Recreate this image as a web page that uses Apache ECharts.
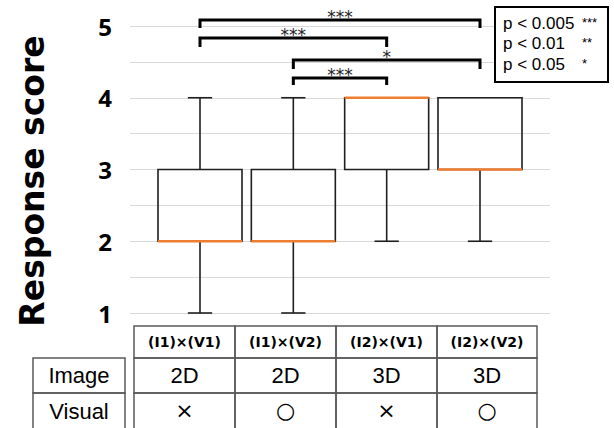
<!DOCTYPE html>
<html><head><meta charset="utf-8">
<script src="https://cdn.jsdelivr.net/npm/echarts@6/dist/echarts.min.js"></script>
<style>html,body{margin:0;padding:0;background:#fff}#c{width:614px;height:428px}</style>
</head><body><div id="c"></div>
<script>
// ---- data ----
const categories = ['(I1)×(V1)', '(I1)×(V2)', '(I2)×(V1)', '(I2)×(V2)'];
const imageRow = ['2D', '2D', '3D', '3D'];
const visualRow = ['×', '○', '×', '○'];
const rowTitles = ['Image', 'Visual'];
const mins = [1, 1, 2, 2];
const q1s = [2, 2, 3, 3];
const medians = [2, 2, 4, 3];
const q3s = [3, 3, 4, 4];
const maxs = [4, 4, 4, 4];
const yTicks = [1, 2, 3, 4, 5];
const bracketFrom = [1, 1, 2, 2];
const bracketTo = [4, 3, 4, 3];
const bracketTop = [5.084, 4.833, 4.526, 4.275];
const bracketFoot = [4.972, 4.707, 4.40, 4.178];
const bracketLabels = ['***', '***', '*', '***'];
const legendLabels = ['p < 0.005', 'p < 0.01', 'p < 0.05'];
const legendStars = ['***', '**', '*'];

// ---- build ----
const boxData = categories.map((c, i) => [i + 1, mins[i], q1s[i], medians[i], q3s[i], maxs[i]]);
const bracketData = bracketFrom.map((f, i) => [f, bracketTo[i], bracketTop[i], bracketFoot[i], i]);

function renderBox(params, api) {
  const x = api.value(0);
  const lo = api.coord([x, api.value(1)]);
  const a = api.coord([x, api.value(2)]);
  const m = api.coord([x, api.value(3)]);
  const b = api.coord([x, api.value(4)]);
  const hi = api.coord([x, api.value(5)]);
  const w = api.size([0.9, 0])[0];
  const cap = api.size([0.26, 0])[0];
  const cx = lo[0];
  const st = { stroke: '#1f1f1f', lineWidth: 1.6, fill: null };
  const ch = [];
  if (hi[1] < b[1] - 0.5) {
    ch.push({ type: 'line', shape: { x1: cx, y1: b[1], x2: cx, y2: hi[1] }, style: st });
    ch.push({ type: 'line', shape: { x1: cx - cap / 2, y1: hi[1], x2: cx + cap / 2, y2: hi[1] }, style: st });
  }
  if (lo[1] > a[1] + 0.5) {
    ch.push({ type: 'line', shape: { x1: cx, y1: a[1], x2: cx, y2: lo[1] }, style: st });
    ch.push({ type: 'line', shape: { x1: cx - cap / 2, y1: lo[1], x2: cx + cap / 2, y2: lo[1] }, style: st });
  }
  ch.push({ type: 'rect', shape: { x: cx - w / 2, y: b[1], width: w, height: a[1] - b[1] }, style: { stroke: '#1f1f1f', lineWidth: 1.6, fill: 'none' } });
  ch.push({ type: 'line', shape: { x1: cx - w / 2, y1: m[1], x2: cx + w / 2, y2: m[1] }, style: { stroke: '#ED7D31', lineWidth: 2.5 } });
  return { type: 'group', children: ch };
}

function renderBracket(params, api) {
  const f = api.value(0), t = api.value(1), top = api.value(2), foot = api.value(3);
  const p1 = api.coord([f, foot]), p2 = api.coord([f, top]), p3 = api.coord([t, top]), p4 = api.coord([t, foot]);
  const idx = api.value(4);
  return {
    type: 'group', children: [
      { type: 'polyline', shape: { points: [p1, p2, p3, p4] }, style: { stroke: '#000', lineWidth: 3, fill: null } },
      { type: 'text', x: (p2[0] + p3[0]) / 2, y: p2[1] - 3, style: { text: bracketLabels[idx], fill: '#222', font: '17px "DejaVu Sans"', align: 'center', verticalAlign: 'middle' } }
    ]
  };
}

const colEdges = [134, 235, 336, 437, 537];
const rowEdges = [326, 358, 393, 430];
const leftEdges = [33, 125];
const gStroke = { stroke: '#595959', lineWidth: 1.5, fill: 'none' };
const graphics = [];
categories.forEach((c, i) => {
  const x0 = colEdges[i], x1 = colEdges[i + 1];
  [0, 1, 2].forEach(r => {
    graphics.push({ type: 'rect', shape: { x: x0, y: rowEdges[r], width: x1 - x0, height: rowEdges[r + 1] - rowEdges[r] }, style: gStroke });
  });
  const cx = (x0 + x1) / 2;
  graphics.push({ type: 'text', x: cx, y: (rowEdges[0] + rowEdges[1]) / 2, style: { text: c, font: 'bold 14px "DejaVu Sans"', fill: '#000', align: 'center', verticalAlign: 'middle' } });
  graphics.push({ type: 'text', x: cx, y: (rowEdges[1] + rowEdges[2]) / 2, style: { text: imageRow[i], font: '22px "Liberation Sans", Arial', fill: '#000', align: 'center', verticalAlign: 'middle' } });
  graphics.push({ type: 'text', x: cx, y: (rowEdges[2] + rowEdges[3]) / 2 - 1, style: { text: visualRow[i], font: '22px "DejaVu Sans"', fill: '#000', align: 'center', verticalAlign: 'middle' } });
});
rowTitles.forEach((t, r) => {
  graphics.push({ type: 'rect', shape: { x: leftEdges[0], y: rowEdges[r + 1], width: leftEdges[1] - leftEdges[0], height: rowEdges[r + 2] - rowEdges[r + 1] }, style: gStroke });
  graphics.push({ type: 'text', x: (leftEdges[0] + leftEdges[1]) / 2, y: (rowEdges[r + 1] + rowEdges[r + 2]) / 2, style: { text: t, font: '22px "Liberation Sans", Arial', fill: '#000', align: 'center', verticalAlign: 'middle' } });
});
// legend box
graphics.push({ type: 'rect', z: 100, shape: { x: 495, y: 7, width: 113, height: 75 }, style: { fill: '#fff', stroke: '#000', lineWidth: 2 } });
legendLabels.forEach((t, i) => {
  const y = 23 + i * 20.5;
  graphics.push({ type: 'text', z: 101, x: 503, y: y, style: { text: t, font: '17px "Liberation Sans", Arial', fill: '#000', align: 'left', verticalAlign: 'middle' } });
  graphics.push({ type: 'text', z: 101, x: 582, y: y - 1, style: { text: legendStars[i], font: '13px "Liberation Sans", Arial', fill: '#000', align: 'left', verticalAlign: 'middle' } });
});
// y axis title
graphics.push({ type: 'text', x: 32, y: 181, rotation: Math.PI / 2, style: { text: 'Response score', font: 'bold 33px "DejaVu Sans"', fill: '#000', align: 'center', verticalAlign: 'middle' } });

const chart = echarts.init(document.getElementById('c'), null, { renderer: 'svg' });
chart.setOption({
  animation: false,
  backgroundColor: '#fff',
  grid: { left: 130, right: 64, top: 26, bottom: 115 },
  xAxis: { type: 'value', min: 0.25, max: 4.75, show: false },
  yAxis: {
    type: 'value', min: 1, max: 5, interval: 0.5,
    axisLine: { show: false }, axisTick: { show: false },
    splitLine: { lineStyle: { color: '#d9d9d9', width: 1 } },
    axisLabel: {
      margin: 18, color: '#000', fontSize: 24, fontWeight: 'bold', fontFamily: 'Noto Sans',
      formatter: v => (yTicks.indexOf(v) >= 0 ? String(v) : '')
    }
  },
  series: [
    { type: 'custom', name: 'box', data: boxData, renderItem: renderBox, clip: false, z: 3 },
    { type: 'custom', name: 'sig', data: bracketData, renderItem: renderBracket, clip: false, z: 4 }
  ],
  graphic: graphics
});
</script>
</body></html>
